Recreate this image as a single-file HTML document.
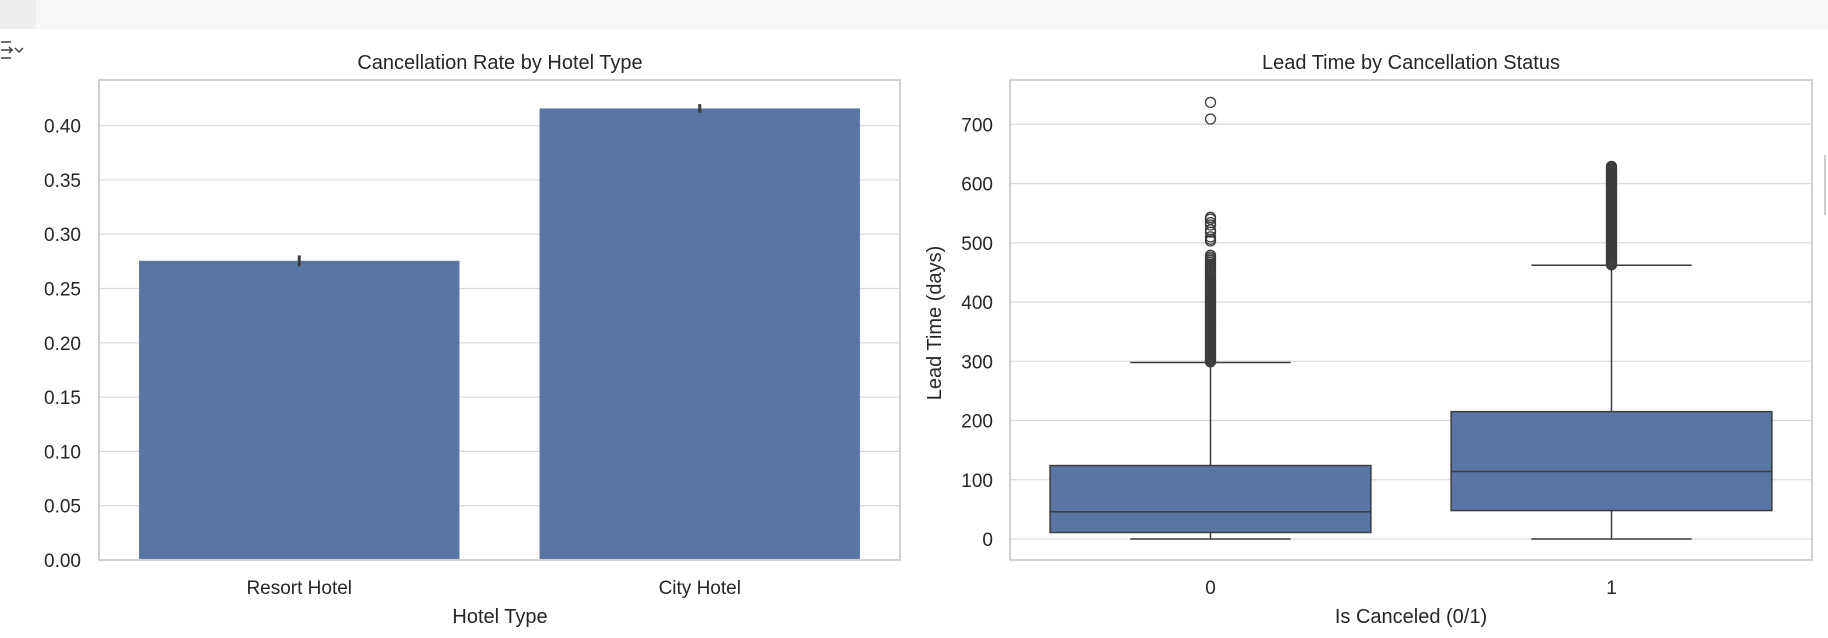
<!DOCTYPE html>
<html><head><meta charset="utf-8">
<style>
body{margin:0;background:#fff;width:1828px;height:633px;overflow:hidden;font-family:"Liberation Sans","DejaVu Sans",sans-serif}
svg text{font-family:"Liberation Sans","DejaVu Sans",sans-serif;fill:#262626}
</style></head>
<body>
<svg id="s" width="1828" height="633" xmlns="http://www.w3.org/2000/svg">
<rect x="0" y="0" width="1828" height="29" fill="#f7f7f7"/>
<rect x="0" y="0" width="36" height="29" fill="#eeeeee"/>
<g stroke="#444" stroke-width="1.5" fill="none">
<path d="M1 42h10M1 58h10M1 50h12M9 47l3 3-3 3M15 48l4 4 4-4"/>
</g>
<rect x="1824" y="155" width="2" height="60" fill="#ccc"/>
<g id="left"></g>
<g id="right"></g>
</svg>
<script>
const NS="http://www.w3.org/2000/svg";
const hotelCategories=["Resort Hotel","City Hotel"];
const cancelRates=[0.2755,0.4158];
const cancelErr=[0.005,0.004];
const barTicks=[0,0.05,0.1,0.15,0.2,0.25,0.3,0.35,0.4];
const boxCategories=["0","1"];
const boxQ1=[11,48];
const boxMedian=[46,114];
const boxQ3=[124,215];
const whiskLo=[0,0];
const whiskHi=[298,462];
const outliers0=[299,301,303,305,307,309,311,313,315,317,319,321,323,325,327,329,331,333,335,337,339,341,343,345,347,349,351,353,355,357,359,361,363,365,367,369,371,373,375,377,379,381,383,385,387,389,391,393,395,397,399,401,403,405,407,409,411,413,415,417,419,421,423,425,427,429,431,433,435,437,440,443,446,449,452,455,458,461,464,467,470,473,476,479,503,506,510,518,522,530,534,540,543,709,737];
const outliers1=[463,465,467,469,471,473,475,477,479,481,483,485,487,489,491,493,495,497,499,501,503,505,507,509,511,513,515,517,519,521,523,525,527,529,531,533,535,537,539,541,543,545,547,549,551,553,555,557,559,561,563,565,567,569,571,573,575,577,579,581,583,585,587,589,591,593,595,597,599,601,603,605,607,609,611,613,615,617,619,621,623,625,627,629];
const boxTicks=[0,100,200,300,400,500,600,700];
function el(p,t,a,txt){const e=document.createElementNS(NS,t);for(const k in a)e.setAttribute(k,a[k]);if(txt!==undefined)e.textContent=txt;p.appendChild(e);return e;}
const L=document.getElementById('left');
const lx0=99,lx1=900,ly0=80,ly1=560;
const ly=v=>560-v*(560-125.6)/0.4;
const lBand=(lx1-lx0)/hotelCategories.length;
for(const t of barTicks){
 const g=el(L,'line',{x1:lx0,x2:lx1,y1:ly(t),y2:ly(t),stroke:'#dcdcdc','stroke-width':1.3});
 
 
 const tx=el(L,'text',{x:81,y:ly(t)+7,'text-anchor':'end','font-size':19},t.toFixed(2));
 
 
}
hotelCategories.forEach((c,i)=>{
 const cx=lx0+lBand*(i+0.5),w=lBand*0.8;
 const r=el(L,'rect',{x:cx-w/2,y:ly(cancelRates[i]),width:w,height:ly(0)-ly(cancelRates[i]),fill:'#5875a4'});
 
 
 const e=el(L,'line',{x1:cx,x2:cx,y1:ly(cancelRates[i]+cancelErr[i]),y2:ly(cancelRates[i]-cancelErr[i]),stroke:'#3d3d3d','stroke-width':3});
 
 
 const t=el(L,'text',{x:cx,y:594,'text-anchor':'middle','font-size':19},c);
 
 
});
const lf=el(L,'rect',{x:lx0,y:ly0,width:lx1-lx0,height:ly1-ly0,fill:'none',stroke:'#d0d0d0','stroke-width':2});


const lt=el(L,'text',{x:500,y:69,'text-anchor':'middle','font-size':20},'Cancellation Rate by Hotel Type');


const lxl=el(L,'text',{x:500,y:623,'text-anchor':'middle','font-size':20},'Hotel Type');


const R=document.getElementById('right');
const rx0=1010,rx1=1812,ry0=80,ry1=560;
const ry=v=>539-v*0.5924;
const rBand=(rx1-rx0)/boxCategories.length;
for(const t of boxTicks){
 const g=el(R,'line',{x1:rx0,x2:rx1,y1:ry(t),y2:ry(t),stroke:'#dcdcdc','stroke-width':1.3});
 
 
 const tx=el(R,'text',{x:993,y:ry(t)+7,'text-anchor':'end','font-size':19},String(t));
 
 
}
const outs=[outliers0,outliers1];
boxCategories.forEach((c,i)=>{
 const cx=rx0+rBand*(i+0.5),w=rBand*0.8;
 const wl=el(R,'line',{x1:cx,x2:cx,y1:ry(whiskLo[i]),y2:ry(whiskHi[i]),stroke:'#3d3d3d','stroke-width':1.5});
 
 
 for(const v of [whiskLo[i],whiskHi[i]]){
  const cap=el(R,'line',{x1:cx-w/4,x2:cx+w/4,y1:ry(v),y2:ry(v),stroke:'#3d3d3d','stroke-width':1.5});
  
  
 }
 const b=el(R,'rect',{x:cx-w/2,y:ry(boxQ3[i]),width:w,height:ry(boxQ1[i])-ry(boxQ3[i]),fill:'#5875a4',stroke:'#3d3d3d','stroke-width':1.5});
 
 
 const m=el(R,'line',{x1:cx-w/2,x2:cx+w/2,y1:ry(boxMedian[i]),y2:ry(boxMedian[i]),stroke:'#3d3d3d','stroke-width':1.5});
 
 
 for(const v of outs[i]){
  const o=el(R,'circle',{cx:cx,cy:ry(v),r:5,fill:'none',stroke:'#3d3d3d','stroke-width':1.3});
  
  
 }
 const t=el(R,'text',{x:cx,y:594,'text-anchor':'middle','font-size':19},c);
 
 
});
const rf=el(R,'rect',{x:rx0,y:ry0,width:rx1-rx0,height:ry1-ry0,fill:'none',stroke:'#d0d0d0','stroke-width':2});


const rt=el(R,'text',{x:1411,y:69,'text-anchor':'middle','font-size':20},'Lead Time by Cancellation Status');


const rxl=el(R,'text',{x:1411,y:623,'text-anchor':'middle','font-size':20},'Is Canceled (0/1)');


const ryl=el(R,'text',{x:0,y:0,'text-anchor':'middle','font-size':20,transform:'translate(941,323) rotate(-90)'},'Lead Time (days)');


</script>
</body></html>
